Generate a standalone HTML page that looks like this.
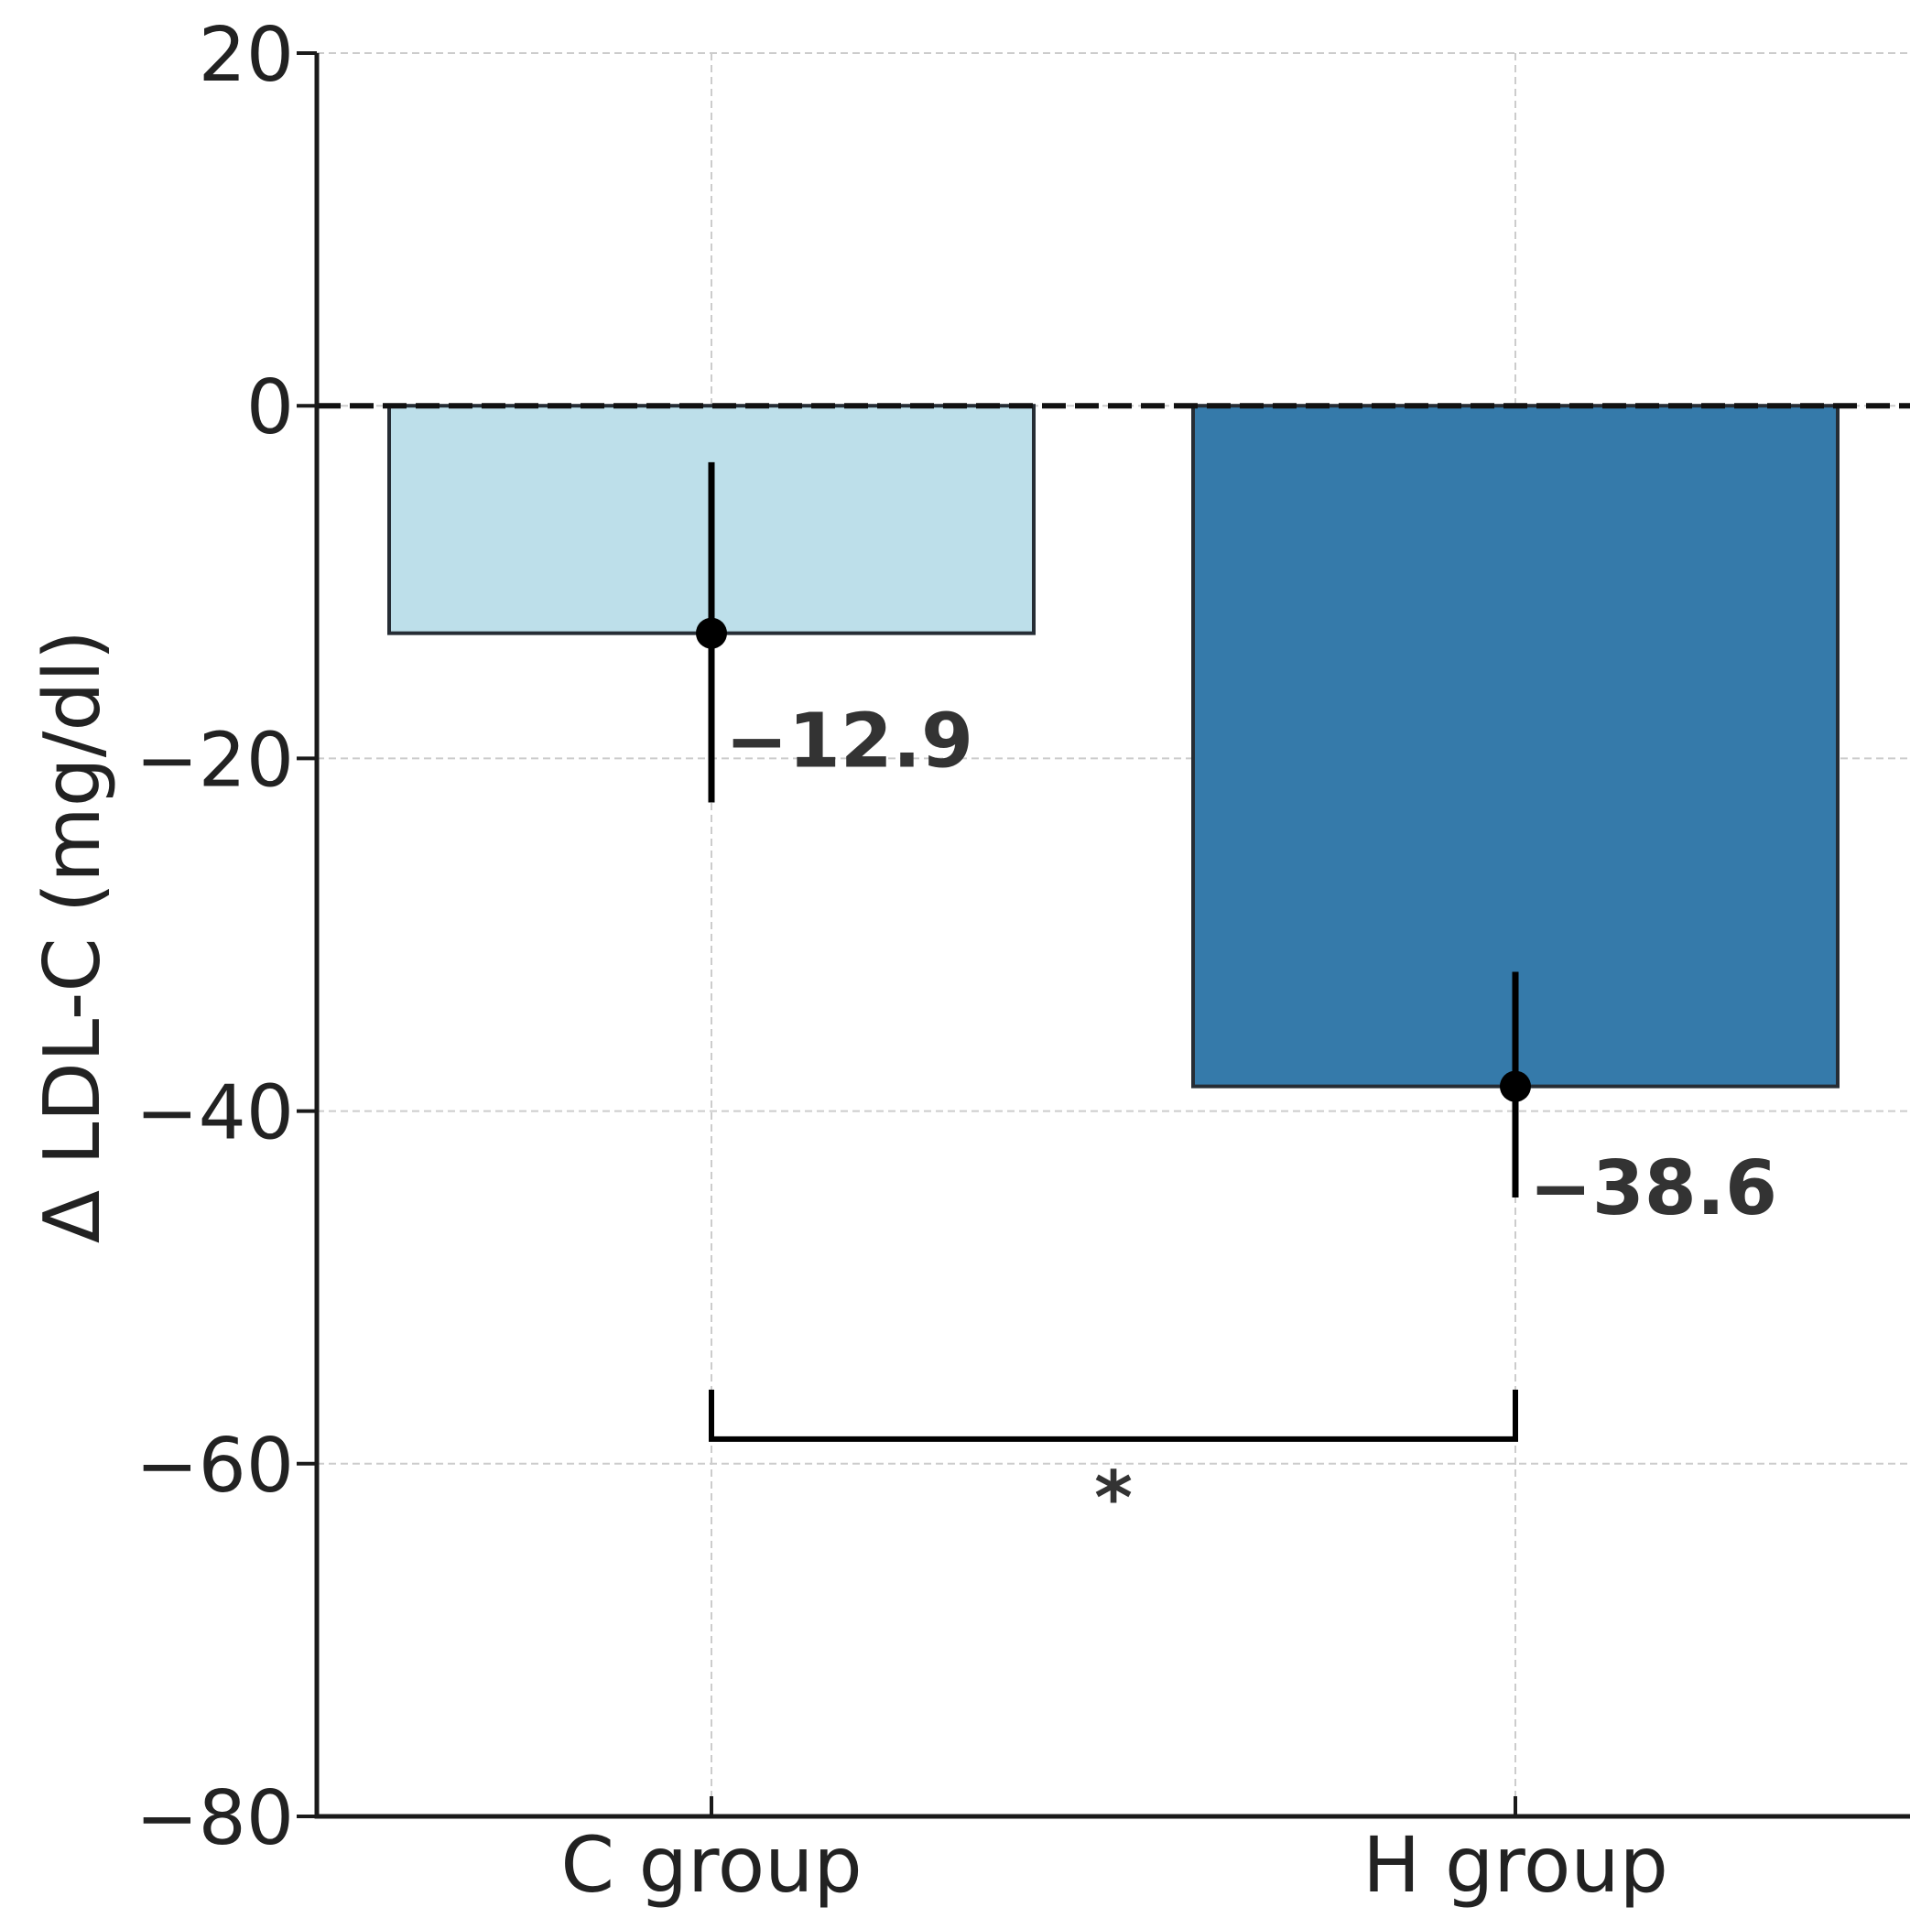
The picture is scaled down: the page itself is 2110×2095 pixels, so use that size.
<!DOCTYPE html>
<html><head><meta charset="utf-8"><style>
html,body{margin:0;padding:0;background:#fff;}
svg{display:block;font-family:"DejaVu Sans","Liberation Sans",sans-serif;}
</style></head><body>
<svg id="chart" width="2110" height="2095" viewBox="0 0 2110 2095"></svg>
<script>
const categories = ["C group", "H group"];
const means = [-12.9, -38.6];
const errTop = [-3.2, -32.1];
const errBottom = [-22.5, -44.9];
const valueLabels = ["\u221212.9", "\u221238.6"];
const yTicks = [20, 0, -20, -40, -60, -80];
const yTickLabels = ["20", "0", "\u221220", "\u221240", "\u221260", "\u221280"];
const bracketTop = -55.8;
const bracketBar = -58.6;

const NS = "http://www.w3.org/2000/svg";
const svg = document.getElementById("chart");
const L = 346, R = 2086, yMin = -80, yMax = 20, T = 58, B = 1984;
const xPos = [777, 1655];
const barW = 704;
function y(v){ return T + (yMax - v) / (yMax - yMin) * (B - T); }
function x(i){ return xPos[i]; }
function add(tag, attrs, parent){
  const el = document.createElementNS(NS, tag);
  for (const k in attrs) el.setAttribute(k, attrs[k]);
  (parent || svg).appendChild(el);
  return el;
}
yTicks.forEach((t, i) => {
  const g = add("line", {x1:L, x2:R, y1:y(t), y2:y(t), stroke:"#cccccc", "stroke-width":2, "stroke-dasharray":"8,5"});
  
  
});
categories.forEach((c, i) => {
  const g = add("line", {x1:x(i), x2:x(i), y1:T, y2:B, stroke:"#cccccc", "stroke-width":2, "stroke-dasharray":"8,5"});
  
  
});
const colors = ["#bddfea", "#357aaa"];
categories.forEach((c, i) => {
  const b = add("rect", {x:x(i)-barW/2, y:y(0), width:barW, height:y(means[i])-y(0), fill:colors[i], stroke:"#262d35", "stroke-width":4});
  
  
});
const z = add("line", {x1:L, x2:R, y1:y(0), y2:y(0), stroke:"#111", "stroke-width":6, "stroke-dasharray":"26,10"});


const labelOffsets = [-39, 18];
categories.forEach((c, i) => {
  const e = add("line", {x1:x(i), x2:x(i), y1:y(errTop[i]), y2:y(errBottom[i]), stroke:"#000", "stroke-width":7});
  
  
  const d = add("circle", {cx:x(i), cy:y(means[i]), r:17, fill:"#000"});
  
  
  const t = add("text", {x:x(i)+15, y:y(errBottom[i]) + labelOffsets[i], "font-size":82, "font-weight":"bold", fill:"#333"});
  t.textContent = valueLabels[i];
  
  
});
const br = add("path", {d:`M${x(0)},${y(bracketTop)} V${y(bracketBar)} H${x(1)} V${y(bracketTop)}`, fill:"none", stroke:"#000", "stroke-width":6});


const st = add("text", {x:(x(0)+x(1))/2, y:y(bracketBar)+92, "font-size":80, "font-weight":"bold", fill:"#333", "text-anchor":"middle"});
st.textContent = "*";


const sp = add("path", {d:`M${L},${T} V${B} H${R}`, fill:"none", stroke:"#1a1a1a", "stroke-width":5});


yTicks.forEach((t, i) => {
  const tk = add("line", {x1:L-22, x2:L, y1:y(t), y2:y(t), stroke:"#1a1a1a", "stroke-width":4});
  
  
  const lb = add("text", {x:L-25, y:y(t)+30, "font-size":82, fill:"#222", "text-anchor":"end"});
  lb.textContent = yTickLabels[i];
  
  
});
categories.forEach((c, i) => {
  const tk = add("line", {x1:x(i), x2:x(i), y1:B-22, y2:B, stroke:"#1a1a1a", "stroke-width":4});
  
  
  const lb = add("text", {x:x(i), y:2066, "font-size":84, fill:"#222", "text-anchor":"middle"});
  lb.textContent = c;
  
  
});
const yl = add("text", {x:0, y:0, transform:"translate(108,1023) rotate(-90)", "font-size":85, fill:"#222", "text-anchor":"middle"});
yl.textContent = "\u0394 LDL-C (mg/dl)";


</script>
</body></html>
